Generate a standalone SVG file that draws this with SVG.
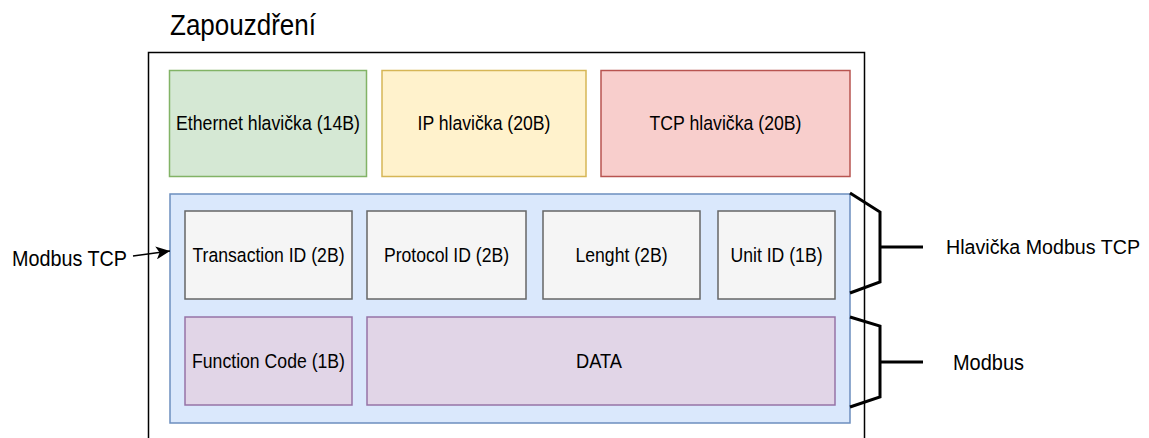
<svg xmlns="http://www.w3.org/2000/svg" width="1149" height="438" viewBox="0 0 1149 438">
  <style>
    text { font-family: "Liberation Sans", Arial, sans-serif; fill: #000; }
    .lbl { font-size: 20.5px; text-anchor: middle; }
    .out { font-size: 22px; }
    .box { stroke-width: 1.5; }
    .green { fill: #d5e8d4; stroke: #82b366; }
    .yellow { fill: #fff2cc; stroke: #d6b656; }
    .red { fill: #f8cecc; stroke: #b85450; }
    .blue { fill: #dae8fc; stroke: #6c8ebf; }
    .gray { fill: #f5f5f5; stroke: #666666; }
    .purple { fill: #e1d5e7; stroke: #9673a6; }
    .brace { fill: none; stroke: #000; stroke-width: 3; stroke-linejoin: miter; }
  </style>
  <defs>
    <marker id="arrow" markerWidth="15" markerHeight="13" refX="14" refY="6.5" orient="auto" markerUnits="userSpaceOnUse">
      <path d="M0,0 L14,6.5 L0,13 L3.5,6.5 Z" fill="#000"/>
    </marker>
  </defs>

  <!-- Title and encapsulation frame -->
  <g id="title">
    <text x="170" y="35" style="font-size:29px" textLength="146" lengthAdjust="spacingAndGlyphs">Zapouzdření</text>
  </g>
  <g id="frame">
    <path d="M148.5,440 V52.5 H864.5 V440" fill="none" stroke="#000" stroke-width="1.5"/>
  </g>

  <!-- Lower-layer headers -->
  <g id="ethernet">
    <rect class="box green" x="169.5" y="70.5" width="197" height="106"/>
    <text class="lbl" x="268" y="130" textLength="184" lengthAdjust="spacingAndGlyphs">Ethernet hlavička (14B)</text>
  </g>
  <g id="ip">
    <rect class="box yellow" x="382" y="70.5" width="204" height="106"/>
    <text class="lbl" x="484" y="130" textLength="133" lengthAdjust="spacingAndGlyphs">IP hlavička (20B)</text>
  </g>
  <g id="tcp">
    <rect class="box red" x="601" y="70.5" width="249" height="106"/>
    <text class="lbl" x="725.5" y="130" textLength="152" lengthAdjust="spacingAndGlyphs">TCP hlavička (20B)</text>
  </g>

  <!-- Modbus TCP frame -->
  <g id="modbus-tcp">
    <rect class="box blue" x="170" y="194" width="680" height="229"/>
  </g>
  <g id="transaction-id">
    <rect class="box gray" x="185" y="211" width="167" height="88"/>
    <text class="lbl" x="268.5" y="262" textLength="152" lengthAdjust="spacingAndGlyphs">Transaction ID (2B)</text>
  </g>
  <g id="protocol-id">
    <rect class="box gray" x="367" y="211" width="159" height="88"/>
    <text class="lbl" x="446.5" y="262" textLength="125" lengthAdjust="spacingAndGlyphs">Protocol ID (2B)</text>
  </g>
  <g id="length">
    <rect class="box gray" x="543" y="211" width="157" height="88"/>
    <text class="lbl" x="621.5" y="262" textLength="92" lengthAdjust="spacingAndGlyphs">Lenght (2B)</text>
  </g>
  <g id="unit-id">
    <rect class="box gray" x="718" y="211" width="117" height="88"/>
    <text class="lbl" x="776.5" y="262" textLength="92" lengthAdjust="spacingAndGlyphs">Unit ID (1B)</text>
  </g>
  <g id="function-code">
    <rect class="box purple" x="185" y="317" width="167" height="88"/>
    <text class="lbl" x="268.5" y="368" textLength="153" lengthAdjust="spacingAndGlyphs">Function Code (1B)</text>
  </g>
  <g id="data">
    <rect class="box purple" x="367" y="317" width="468" height="88"/>
    <text class="lbl" x="599" y="368" textLength="46" lengthAdjust="spacingAndGlyphs">DATA</text>
  </g>

  <!-- Side labels -->
  <g id="label-modbus-tcp">
    <text class="out" x="12" y="266" textLength="115" lengthAdjust="spacingAndGlyphs">Modbus TCP</text>
  </g>
  <g id="label-header">
    <text x="946" y="254" style="font-size:20px" textLength="194" lengthAdjust="spacingAndGlyphs">Hlavička Modbus TCP</text>
  </g>
  <g id="label-modbus">
    <text class="out" x="953" y="370" textLength="71" lengthAdjust="spacingAndGlyphs">Modbus</text>
  </g>

  <!-- Connectors: arrow and brackets -->
  <g id="connectors">
    <line x1="133" y1="256" x2="170" y2="251" stroke="#000" stroke-width="1.5" marker-end="url(#arrow)"/>
    <path class="brace" d="M850,193 L880,212 V282 L850,293 M880,247 H923"/>
    <path class="brace" d="M850,317 L880,326 V397 L850,407 M880,362 H923"/>
  </g>
</svg>
